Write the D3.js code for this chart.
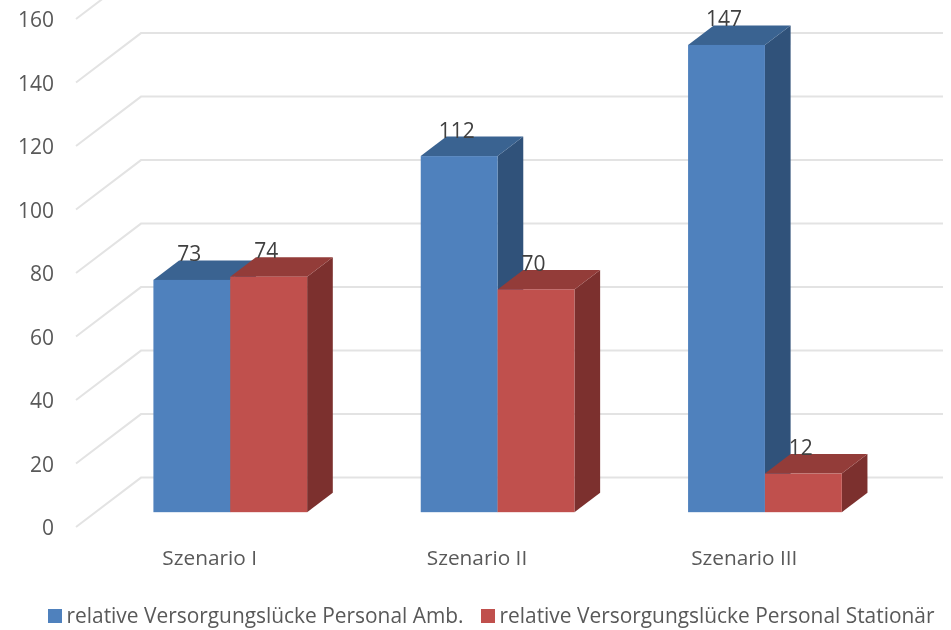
<!DOCTYPE html>
<html><head><meta charset="utf-8">
<script src="https://cdn.jsdelivr.net/npm/d3@7"></script>
<style>
html,body{margin:0;padding:0;background:#fff;overflow:hidden}
svg{display:block;filter:blur(0.35px)}
text{font-family:"Open Sans",sans-serif}
</style></head><body><svg id="c" width="951" height="630"></svg>
<script>
const categories = ["Szenario I", "Szenario II", "Szenario III"];
const seriesNames = ["relative Versorgungslücke Personal Amb.", "relative Versorgungslücke Personal Stationär"];
const ambValues = [73, 112, 147];
const statValues = [74, 70, 12];
const yTickValues = [0, 20, 40, 60, 80, 100, 120, 140, 160];
const frontColors = ["#4f81bd", "#c0504d"];
const topColors = ["#3a6391", "#933c39"];
const sideColors = ["#30527a", "#7c302e"];

const svg = d3.select("#c");
const depthX = 65, depthY = -49.4, barDepth = 0.395, barStart = 0.3, barShift = 1.1;
const y = d3.scaleLinear().domain([0, 160]).range([527, 19]);
const x0 = d3.scaleBand().domain(categories).range([76, 878]).paddingInner(0.425).paddingOuter(0.2125);
const x1 = d3.scaleBand().domain([0, 1]).range([0, x0.bandwidth()]);

const grid = svg.append("g").attr("fill", "none").attr("stroke", "#e3e3e3").attr("stroke-width", 2);
grid.selectAll("path").data(yTickValues).join("path")
  .attr("d", v => `M${x0.range()[0]},${y(v)}L${x0.range()[0] + depthX},${y(v) + depthY}H${x0.range()[1] + depthX}`);

const axis = svg.append("g").attr("transform", "translate(61,0)")
  .call(d3.axisLeft(y).tickValues(yTickValues).tickSize(0).tickPadding(7));
axis.select(".domain").remove();
axis.selectAll("text").attr("font-size", 21).attr("fill", "#595959").attr("dy", "0.36em")
  .style("font-family", '"Open Sans"');

const rows = categories.flatMap((c, i) => [
  {c, s: 0, v: ambValues[i]},
  {c, s: 1, v: statValues[i]}
]);
const ox = barStart * depthX + barShift, oy = barStart * depthY;
const dx = barDepth * depthX, dy = barDepth * depthY;
const bars = svg.append("g").selectAll("g").data(rows).join("g");
const bx = d => x0(d.c) + x1(d.s) + ox;
const bw = x1.bandwidth();
const ty = d => y(d.v) + oy - 0.5;
const by = y(0) + oy;
bars.append("path").attr("fill", d => sideColors[d.s])
  .attr("d", d => `M${bx(d) + bw},${ty(d)}l${dx},${dy}V${by + dy}L${bx(d) + bw},${by}Z`);
bars.append("path").attr("fill", d => topColors[d.s])
  .attr("d", d => `M${bx(d)},${ty(d)}l${dx},${dy}h${bw}l${-dx},${-dy}Z`);
bars.append("rect").attr("fill", d => frontColors[d.s])
  .attr("x", bx).attr("y", ty).attr("width", bw).attr("height", d => by - ty(d));

svg.append("g").selectAll("text").data(rows).join("text")
  .attr("x", d => bx(d) + bw / 2 - 2.5).attr("y", d => ty(d) - 18.5)
  .attr("text-anchor", "middle").attr("font-size", 21).attr("fill", "#404040")
  .text(d => d.v);

svg.append("g").selectAll("text").data(categories).join("text")
  .attr("x", d => x0(d) + x0.bandwidth() / 2).attr("y", 565)
  .attr("text-anchor", "middle").attr("font-size", 20.8).attr("fill", "#595959")
  .text(d => d);

const legendX = [48, 481], legend = svg.append("g");
const li = legend.selectAll("g").data(seriesNames).join("g")
  .attr("transform", (d, i) => `translate(${legendX[i]},609)`);
li.append("rect").attr("width", 14).attr("height", 14).attr("fill", (d, i) => frontColors[i]);
li.append("text").attr("x", 18.5).attr("y", 14).attr("font-size", 20.9).attr("fill", "#595959").text(d => d);
</script></body></html>
